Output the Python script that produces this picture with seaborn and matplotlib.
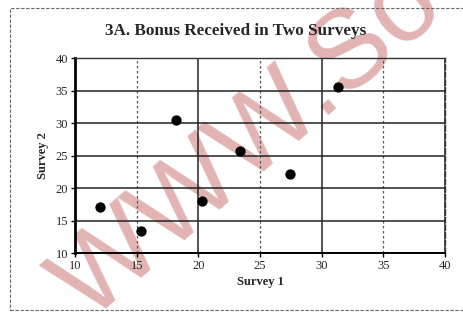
import numpy as np
import pandas as pd
import matplotlib
matplotlib.use("Agg")
import matplotlib.pyplot as plt
import seaborn as sns
from matplotlib.patches import Rectangle

# values
survey1 = [12.0, 15.3, 18.2, 20.3, 23.4, 27.4, 31.3]
survey2 = [17.1, 13.4, 30.4, 18.0, 25.7, 22.2, 35.5]
xticks = [10, 15, 20, 25, 30, 35, 40]
yticks = [10, 15, 20, 25, 30, 35, 40]
title = "3A. Bonus Received in Two Surveys"

df = pd.DataFrame({"Survey 1": survey1, "Survey 2": survey2})

sns.set_style("white")
plt.rcParams['font.family'] = ['Liberation Serif', 'DejaVu Serif']

fig = plt.figure(figsize=(4.64, 3.14), dpi=100)
ax = fig.add_axes([0.162, 0.194, 0.797, 0.621])
ax.set_facecolor("none")

sns.scatterplot(data=df, x="Survey 1", y="Survey 2", color="black", s=55,
                edgecolor="black", linewidth=0, ax=ax, zorder=3)

ax.set_xlim(10, 40)
ax.set_ylim(10, 40)
ax.set_xticks(xticks)
ax.set_yticks(yticks)
ax.tick_params(axis="both", labelsize=9, length=3, width=1, color="black",
               direction="out", pad=2)
ax.tick_params(bottom=True, left=True)

# horizontal grid solid, vertical grid mixed solid / dotted
ax.grid(True, color="#222222", lw=1.1)
for line, t in zip(ax.get_xgridlines(), xticks):
    if t in (15, 25, 35):
        line.set_linestyle((0, (2, 2)))
        line.set_color("#555555")
        line.set_linewidth(0.9)

for side in ["top", "right"]:
    ax.spines[side].set_color("#333333")
    ax.spines[side].set_linewidth(1.0)
ax.spines["right"].set_linestyle((0, (4, 1.5)))
ax.spines["left"].set_linewidth(2.0)
ax.spines["left"].set_color("black")
ax.spines["bottom"].set_linewidth(1.4)
ax.spines["bottom"].set_color("black")

ax.set_xlabel("Survey 1", fontsize=9, fontweight="bold", labelpad=3)
ax.set_ylabel("Survey 2", fontsize=9, fontweight="bold", labelpad=5)
fig.text(0.508, 0.9, title, ha="center", va="center", fontsize=12.3,
         fontweight="bold")

# dashed outer border of the scanned chart box
fig.patches.append(Rectangle((0.022, 0.012), 1.2, 0.962, transform=fig.transFigure,
                             fill=False, ec="#666666", lw=0.8, ls=(0, (3, 1.5))))

# watermark of the scan, under the chart marks
fig.text(0.225, -0.085, "WWW.So", rotation=41, fontsize=80, color="#d99a9a",
         alpha=0.75, family="Liberation Sans", ha="left", va="bottom",
         rotation_mode="anchor", zorder=-1)

fig.savefig("out.png", dpi=100, facecolor="white")
